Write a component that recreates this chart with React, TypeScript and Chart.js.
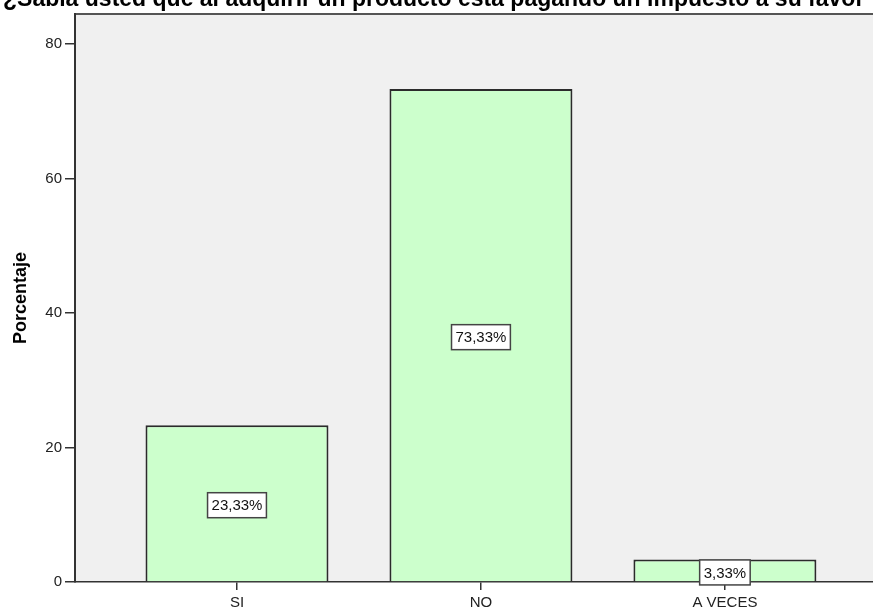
import React, { useEffect, useRef } from "react";
import { Chart, registerables } from "chart.js";

Chart.register(...registerables);

const TITLE = "¿Sabía usted que al adquirir un producto está pagando un impuesto a su favor";
const CATEGORIES = ["SI", "NO", "A VECES"];
const VALUES = [23.33, 73.33, 3.33];
const Y_TICKS = [0, 20, 40, 60, 80];
const Y_TITLE = "Porcentaje";

const FONT = "Arial, 'Liberation Sans', sans-serif";

export default function App() {
  const ref = useRef<HTMLCanvasElement | null>(null);

  useEffect(() => {
    const canvas = ref.current;
    if (!canvas) return;

    const bgPlugin = {
      id: "spssBg",
      beforeDraw(chart: any) {
        const { ctx, chartArea } = chart;
        ctx.save();
        ctx.fillStyle = "#ffffff";
        ctx.fillRect(0, 0, chart.width, chart.height);
        ctx.fillStyle = "#f0f0f0";
        ctx.fillRect(chartArea.left, chartArea.top, chartArea.right - chartArea.left, chartArea.bottom - chartArea.top);
        ctx.strokeStyle = "#555555";
        ctx.lineWidth = 2;
        ctx.beginPath();
        ctx.moveTo(chartArea.left, chartArea.top);
        ctx.lineTo(chartArea.right, chartArea.top);
        ctx.stroke();
        ctx.fillStyle = "#000000";
        ctx.font = "bold 23px " + FONT;
        ctx.textAlign = "left";
        ctx.textBaseline = "alphabetic";
        ctx.fillText(TITLE, 3, 6);
        ctx.restore();
      },
    };

    const labelPlugin = {
      id: "boxLabels",
      afterDatasetsDraw(chart: any) {
        const { ctx } = chart;
        const meta = chart.getDatasetMeta(0);
        ctx.save();
        ctx.font = "15px " + FONT;
        ctx.textAlign = "center";
        ctx.textBaseline = "middle";
        meta.data.forEach((bar: any, i: number) => {
          const text = VALUES[i].toFixed(2).replace(".", ",") + "%";
          const cx = bar.x;
          const cy = (bar.y + bar.base) / 2 + 2;
          const w = ctx.measureText(text).width + 8;
          const h = 25;
          ctx.fillStyle = "#ffffff";
          ctx.fillRect(cx - w / 2, cy - h / 2, w, h);
          ctx.strokeStyle = "#444444";
          ctx.lineWidth = 1.5;
          ctx.strokeRect(cx - w / 2, cy - h / 2, w, h);
          ctx.fillStyle = "#111111";
          ctx.fillText(text, cx, cy + 1);
        });
        ctx.restore();
      },
    };

    const chart = new Chart(canvas, {
      type: "bar",
      data: {
        datasets: [
          {
            data: VALUES.map((v, i) => ({ x: i, y: v })),
            backgroundColor: "#ccffcc",
            borderColor: "#2b2b2b",
            borderWidth: 2,
            categoryPercentage: 1,
            barPercentage: 0.75,
          },
        ],
      },
      options: {
        responsive: false,
        animation: false,
        layout: { padding: { top: 14, left: 0, right: 0, bottom: 0 } },
        plugins: { legend: { display: false }, tooltip: { enabled: false }, title: { display: false } },
        scales: {
          x: {
            type: "linear",
            position: "bottom",
            offset: false,
            min: -0.664,
            max: 2.607,
            afterBuildTicks(scale: any) {
              scale.ticks = CATEGORIES.map((_, i) => ({ value: i }));
            },
            afterFit(scale: any) {
              scale.height = 28;
            },
            ticks: {
              callback: (v: any) => CATEGORIES[Math.round(Number(v))] ?? "",
              font: { family: FONT, size: 15 },
              color: "#222222",
              padding: 4,
              maxRotation: 0,
              autoSkip: false,
            },
            grid: { offset: false, drawOnChartArea: false, drawTicks: true, tickLength: 8, color: "#333333", lineWidth: 1.5 },
            border: { display: true, color: "#333333", width: 1.5 },
          },
          y: {
            type: "linear",
            min: 0,
            max: 84.5,
            afterBuildTicks(scale: any) {
              scale.ticks = Y_TICKS.map((v) => ({ value: v }));
            },
            afterFit(scale: any) {
              scale.width = 75;
            },
            ticks: {
              font: { family: FONT, size: 15 },
              color: "#222222",
              padding: 3,
            },
            grid: { drawOnChartArea: false, drawTicks: true, tickLength: 10, color: "#333333", lineWidth: 1.5 },
            border: { display: true, color: "#333333", width: 2 },
            title: {
              display: true,
              text: Y_TITLE,
              font: { family: FONT, size: 18, weight: "bold" },
              color: "#000000",
              padding: { top: 10, bottom: 0 },
            },
          },
        },
      },
      plugins: [bgPlugin, labelPlugin],
    } as any);

    return () => chart.destroy();
  }, []);

  return (
    <div style={{ position: "absolute", left: 0, top: 0, width: 873, height: 610, overflow: "hidden", background: "#fff" }}>
      <canvas ref={ref} width={873} height={610} style={{ display: "block" }} />
    </div>
  );
}
